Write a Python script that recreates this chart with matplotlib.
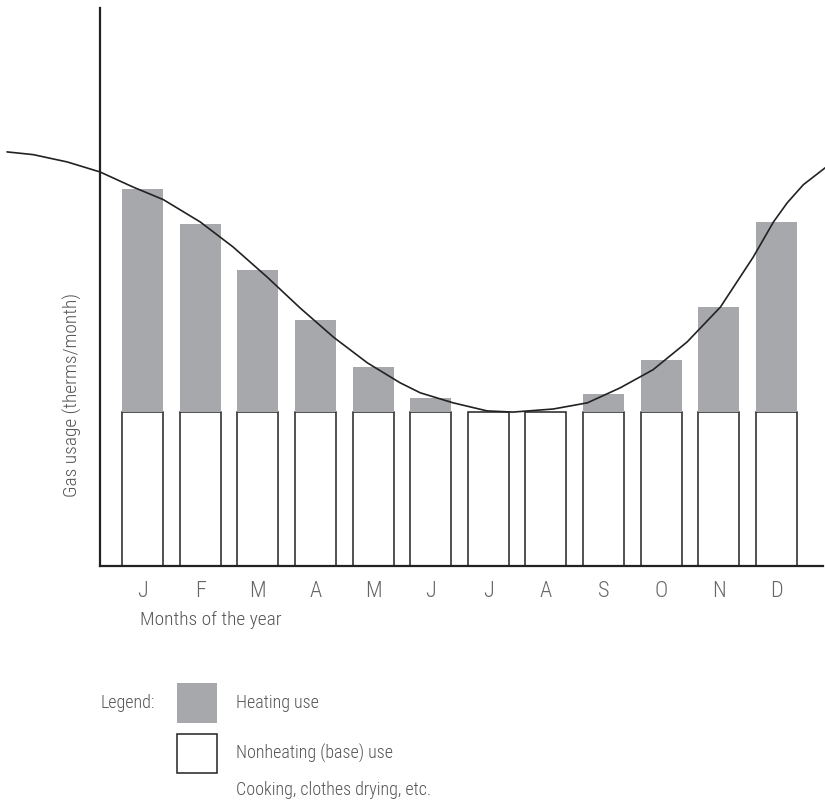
import numpy as np
import matplotlib
matplotlib.use('Agg')
import matplotlib.pyplot as plt
from matplotlib.patches import Rectangle

plt.rcParams['font.family'] = ['Roboto Condensed', 'Roboto', 'DejaVu Sans']
plt.rcParams['font.weight'] = 'light'

# monthly gas use, therms/month
months = ['J', 'F', 'M', 'A', 'M', 'J', 'J', 'A', 'S', 'O', 'N', 'D']
base_use = [40, 40, 40, 40, 40, 40, 40, 40, 40, 40, 40, 40]
heating_use = [58, 49, 37, 24, 11.7, 3.6, 0, 0, 4.7, 13.5, 27.3, 49.4]

# curve traced point by point (x in month index units)
curve_x = [-2.35, -1.90, -1.31, -0.74, -0.17, 0.36, 1.0, 1.57, 2.16, 2.73,
           3.31, 3.90, 4.47, 4.82, 5.39, 5.98, 6.43, 7.13, 7.72, 8.29,
           8.86, 9.45, 10.03, 10.60, 10.95, 11.19, 11.47, 11.85]
curve_y = [107.6, 106.9, 105.0, 102.4, 98.5, 95.2, 89.4, 82.9, 75.1, 67.1,
           59.5, 52.8, 47.6, 45.0, 42.4, 40.3, 40.0, 40.8, 42.4, 46.3,
           51.0, 58.2, 67.3, 80.3, 89.4, 94.4, 99.1, 103.5]

grey = '#a7a8ab'
txt = '#555555'

fig = plt.figure(figsize=(8.25, 8.05), dpi=100)
ax = fig.add_axes([100/825, 1-566/805, 723/825, 558/805])

x = np.arange(len(months))
ax.bar(x, base_use, width=0.71, color='white', edgecolor='#222222', linewidth=1.1, zorder=2)
ax.bar(x, heating_use, width=0.71, bottom=base_use, color=grey, edgecolor='none', zorder=2)
ax.plot(curve_x, curve_y, color='#222222', lw=1.2, clip_on=False, zorder=3)

ax.set_xlim(-0.74, 11.81)
ax.set_ylim(0, 145)
ax.set_xticks(x)
ax.set_xticklabels(months, fontsize=16, color='#666666')
ax.tick_params(axis='x', length=0, pad=11)
ax.set_yticks([])
for s in ['top', 'right']:
    ax.spines[s].set_visible(False)
for s in ['left', 'bottom']:
    ax.spines[s].set_linewidth(1.6)
    ax.spines[s].set_color('#222222')

fig.text(140/825, 1-620/805, 'Months of the year', fontsize=14, color=txt, va='center')
fig.text(72/825, 1-395/805, 'Gas usage (therms/month)', fontsize=14, color=txt,
         rotation=90, ha='center', va='center')

# legend
fig.text(100/825, 1-703/805, 'Legend:', fontsize=13, color=txt, va='center')
fig.add_artist(Rectangle((177/825, 1-723/805), 40/825, 40/805, facecolor=grey,
                         edgecolor='none', transform=fig.transFigure))
fig.add_artist(Rectangle((177/825, 1-773/805), 40/825, 39/805, facecolor='white',
                         edgecolor='#222222', lw=1.1, transform=fig.transFigure))
fig.text(236/825, 1-703/805, 'Heating use', fontsize=13, color=txt, va='center')
fig.text(236/825, 1-753/805, 'Nonheating (base) use', fontsize=13, color=txt, va='center')
fig.text(236/825, 1-790/805, 'Cooking, clothes drying, etc.', fontsize=13, color=txt, va='center')

plt.savefig('out.png', dpi=100)
